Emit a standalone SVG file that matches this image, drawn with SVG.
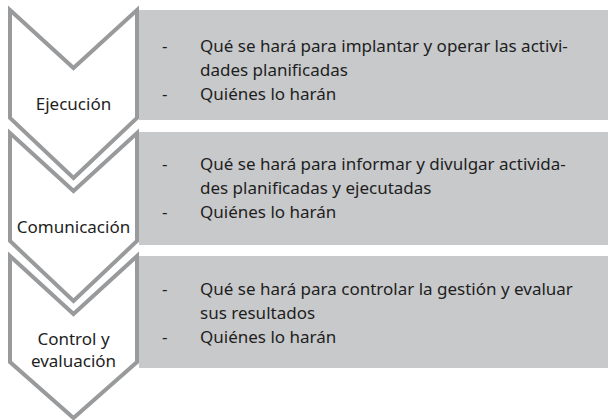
<svg xmlns="http://www.w3.org/2000/svg" width="608" height="420" viewBox="0 0 608 420">
<style>
.chev{fill:#ffffff;stroke:#999a9c;stroke-width:4;stroke-linejoin:miter}
.box{fill:#c8c9cb}
.t{font-family:"Noto Sans","Open Sans",sans-serif;font-size:17px;fill:#1e1e1e}
.lbl{text-anchor:middle}
</style>
<rect width="608" height="420" fill="#ffffff"/>
<g id="connectors"></g>
<g id="node-ejecucion">
<rect class="box" x="139" y="10" width="469" height="110"/>
<path class="chev" d="M10,10 L73.5,68 L137,10 L137,118 L73.5,178 L10,118 Z"/>
<text class="t lbl" x="73.5" y="110">Ejecución</text>
<text class="t" x="162" y="52">-</text>
<text class="t" x="200" y="52">Qué se hará para implantar y operar las activi-</text>
<text class="t" x="200" y="76">dades planificadas</text>
<text class="t" x="162" y="100">-</text>
<text class="t" x="200" y="100">Quiénes lo harán</text>
</g>
<g id="node-comunicacion">
<rect class="box" x="139" y="132" width="469" height="113"/>
<path class="chev" d="M10,133 L73.5,191 L137,133 L137,241 L73.5,301 L10,241 Z"/>
<text class="t lbl" x="73.5" y="233">Comunicación</text>
<text class="t" x="162" y="170">-</text>
<text class="t" x="200" y="170">Qué se hará para informar y divulgar activida-</text>
<text class="t" x="200" y="194">des planificadas y ejecutadas</text>
<text class="t" x="162" y="218">-</text>
<text class="t" x="200" y="218">Quiénes lo harán</text>
</g>
<g id="node-control">
<rect class="box" x="139" y="256" width="469" height="112"/>
<path class="chev" d="M10,256 L73.5,314 L137,256 L137,362 L73.5,418 L10,362 Z"/>
<text class="t lbl" x="73.5" y="345">Control y</text>
<text class="t lbl" x="73.5" y="367">evaluación</text>
<text class="t" x="162" y="295">-</text>
<text class="t" x="200" y="295">Qué se hará para controlar la gestión y evaluar</text>
<text class="t" x="200" y="319">sus resultados</text>
<text class="t" x="162" y="343">-</text>
<text class="t" x="200" y="343">Quiénes lo harán</text>
</g>
</svg>
